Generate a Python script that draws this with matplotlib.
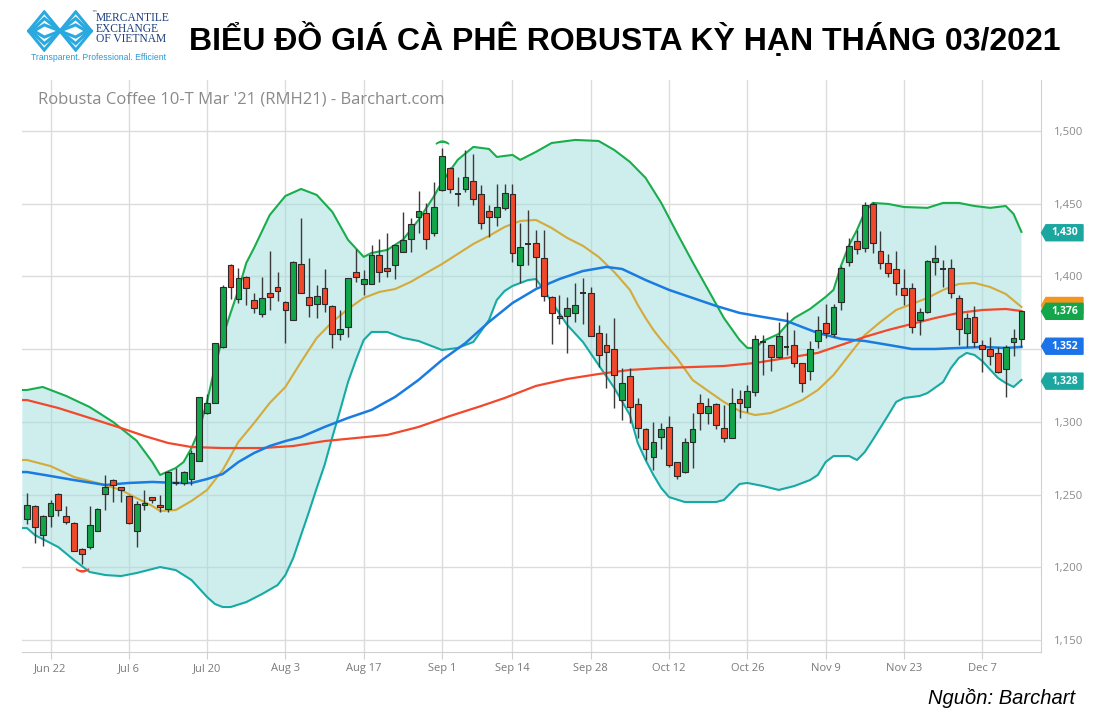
import numpy as np
import pandas as pd
import matplotlib
matplotlib.use('Agg')
import matplotlib.pyplot as plt
from matplotlib.transforms import blended_transform_factory
from matplotlib.ticker import FuncFormatter

# trading days on the chart (London robusta, Aug 31 bank holiday skipped)
dates = pd.bdate_range('2020-06-17', '2020-12-14')
dates = dates[dates != pd.Timestamp('2020-08-31')]

opens = [1233, 1242.2, 1222.2, 1235.3, 1250.4, 1235.3, 1230.7, 1212.4, 1213.7, 1225.2,
         1250.4, 1260, 1255, 1249.3, 1225.2, 1242.8, 1248.1, 1243, 1240, 1257.8,
         1257.8, 1260.5, 1273.3, 1305.9, 1313.2, 1351.3, 1407.9, 1384.3, 1399.8, 1383.8,
         1374.1, 1388.9, 1393, 1382.7, 1370, 1408.6, 1386.1, 1381, 1391.8, 1379.9,
         1360.2, 1365, 1402.8, 1394.8, 1394.8, 1414.8, 1406, 1407.9, 1417, 1425.8,
         1441.1, 1443.9, 1429.6, 1459.4, 1474.8, 1456.7, 1459.9, 1465.9, 1456.7, 1445,
         1441.1, 1446.8, 1456.7, 1407.9, 1422.3, 1422.8, 1412.9, 1386.1, 1373, 1373,
         1375.1, 1388.9, 1388.9, 1361.4, 1352.9, 1350.1, 1315.1, 1331.8, 1312.1, 1295.1,
         1276.1, 1289.8, 1296.2, 1272.2, 1265.8, 1285.9, 1313.2, 1306.3, 1312.3, 1296,
         1289.1, 1315.5, 1310, 1320.3, 1354.7, 1352.9, 1344.8, 1351.7, 1352.9, 1340.3,
         1335, 1355.8, 1368.2, 1360.2, 1382.2, 1410.2, 1424.6, 1419.3, 1449.6, 1417.7,
         1409, 1404.9, 1391.8, 1391.8, 1370, 1375.8, 1409.7, 1404.9, 1405.6, 1384.9,
         1360.9, 1371.9, 1352.9, 1350.1, 1347.1, 1336.1, 1355.1, 1357]
highs = [1251, 1243, 1236, 1246, 1251, 1242.2, 1231, 1213, 1242.2, 1241,
         1263.5, 1260.5, 1255.5, 1249.5, 1245.8, 1253.2, 1248.5, 1250, 1266, 1268,
         1266, 1280.7, 1317.3, 1319.2, 1354.2, 1394.1, 1408.2, 1405.6, 1400, 1388.4,
         1399.8, 1417.7, 1402.8, 1383, 1410.4, 1440, 1412.9, 1394.1, 1405.1, 1380,
         1376.9, 1398.9, 1418.6, 1404.4, 1421.6, 1426, 1429.7, 1422, 1444.5, 1440,
         1459, 1450.7, 1464.7, 1488, 1475, 1468.6, 1487, 1484, 1462.9, 1449.1,
         1463.6, 1463.6, 1463.6, 1436.5, 1445.7, 1432, 1432, 1386.5, 1387.3, 1385.7,
         1395.3, 1398.7, 1393, 1366.6, 1360.9, 1371.2, 1336.8, 1336.8, 1316.2, 1296,
         1300.1, 1299, 1304, 1272.5, 1288.7, 1305.9, 1319.2, 1316.6, 1313, 1311.6,
         1323, 1321.9, 1325.3, 1359.7, 1359.7, 1353, 1368.9, 1375.8, 1363.2, 1340.5,
         1355.8, 1373, 1380.8, 1380.8, 1407.2, 1426.2, 1431.9, 1451, 1451, 1431,
         1415.4, 1417.7, 1404.9, 1395.3, 1378.1, 1411, 1421.6, 1411.3, 1411.8, 1387.2,
         1374.6, 1379.7, 1356.3, 1358.6, 1351.2, 1352.9, 1363.6, 1376.2]
lows = [1230, 1216.5, 1214.7, 1228, 1235.3, 1230, 1211, 1202.5, 1212.4, 1224.8,
        1239.4, 1245, 1245, 1230, 1213.8, 1239.4, 1244, 1238, 1238, 1256.6,
        1256.6, 1256.6, 1273, 1305.5, 1313, 1351, 1384.3, 1382, 1380.4, 1375.1,
        1372.4, 1376.9, 1383.4, 1354, 1369.8, 1388.7, 1372.4, 1371.2, 1375.8, 1351,
        1356.3, 1358.1, 1396.4, 1387.2, 1394.5, 1396.4, 1399.8, 1398, 1416.8, 1417,
        1429.6, 1418.9, 1428, 1459, 1457, 1448.5, 1458.3, 1449.1, 1432.4, 1427.4,
        1434.7, 1445.7, 1410.2, 1395.3, 1407.9, 1392.5, 1383, 1353.6, 1367.3, 1347.1,
        1368.9, 1367.3, 1359, 1337.5, 1323.1, 1309.3, 1301.3, 1299, 1288.7, 1273.8,
        1266.9, 1281.3, 1268.7, 1260.7, 1264.6, 1268, 1294.4, 1298.3, 1295.1, 1286.4,
        1288.8, 1302.4, 1307, 1318, 1332.2, 1335, 1343.7, 1346, 1338, 1320.8,
        1328.8, 1350.6, 1357.4, 1358.6, 1376.9, 1407.4, 1415.4, 1417, 1415.9, 1405,
        1399.4, 1387.2, 1380.4, 1361.3, 1359.7, 1375, 1401, 1393, 1384.9, 1352.9,
        1351.7, 1351.7, 1334.5, 1339.1, 1333.8, 1317.3, 1345.3, 1351.7]
closes = [1242.6, 1227.5, 1235.3, 1244.5, 1239.4, 1231.2, 1211.5, 1209.2, 1229.1, 1240.1,
          1255, 1256.4, 1253.2, 1230.3, 1243.5, 1244.5, 1246.3, 1241.5, 1265.3, 1257.8,
          1265.8, 1278.4, 1317.3, 1313.2, 1354, 1393, 1392.5, 1398.7, 1392.3, 1378.1,
          1385, 1386.1, 1390.2, 1376.9, 1410.2, 1388.9, 1380.4, 1386.8, 1381, 1360.2,
          1363.9, 1398.7, 1399.4, 1398, 1414.8, 1403.3, 1404, 1421.6, 1425, 1436,
          1445, 1425.8, 1447.5, 1483, 1459.9, 1456.7, 1468.2, 1453, 1437, 1440.6,
          1447.5, 1457.6, 1416.4, 1420, 1422.3, 1413.1, 1386.6, 1375.1, 1371.2, 1378.1,
          1380.4, 1388.9, 1359.1, 1346, 1348.3, 1332.3, 1327, 1310.5, 1295.6, 1281.3,
          1285.9, 1295.1, 1270.3, 1263, 1285.9, 1295.1, 1305.9, 1310.9, 1297.8, 1289.1,
          1313.2, 1313.2, 1321.2, 1357, 1354.7, 1344.8, 1359.3, 1351.7, 1340.3, 1326.5,
          1350.1, 1363.2, 1361.3, 1378.8, 1406, 1421.2, 1418.9, 1449.1, 1423.2, 1409,
          1402.6, 1395.3, 1387.2, 1365, 1375.8, 1410.8, 1412.9, 1404.9, 1388.4, 1363.9,
          1371.2, 1355.1, 1350.1, 1345.3, 1334.5, 1351.2, 1357.4, 1376.2]

tick_days = ['2020-06-22', '2020-07-06', '2020-07-20', '2020-08-03', '2020-08-17',
             '2020-09-01', '2020-09-14', '2020-09-28', '2020-10-12', '2020-10-26',
             '2020-11-09', '2020-11-23', '2020-12-07']
tick_labels = ['Jun 22', 'Jul 6', 'Jul 20', 'Aug 3', 'Aug 17', 'Sep 1', 'Sep 14',
               'Sep 28', 'Oct 12', 'Oct 26', 'Nov 9', 'Nov 23', 'Dec 7']

# indicator lines at bar positions
upper_x = [-0.6, 0, 2, 5, 8, 11, 14, 16, 17, 19, 20, 21, 22, 23, 24, 25, 26, 27, 28, 29,
           31, 33, 35, 37, 39, 41, 43, 44, 46, 48, 50, 52, 53, 55, 57, 59, 60, 62, 63, 65,
           67, 70, 73, 75, 77, 79, 81, 83, 85, 87, 89, 91, 92, 93, 94, 96, 97, 98, 100, 102,
           103, 104, 105, 106, 107, 108, 110, 112, 115, 117, 119, 121, 123, 125, 126, 127]
upper_y = [1321.9, 1321.9, 1324.0, 1317.8, 1310.2, 1299.9, 1287.0, 1272.4, 1263.5, 1268.3,
           1272.4, 1282.0, 1294.4, 1314.3, 1337.7, 1358.4, 1374.9, 1390.7, 1409.2, 1419.6,
           1442.2, 1455.3, 1460.1, 1456.0, 1444.3, 1425.1, 1413.4, 1416.1, 1418.2, 1425.1,
           1438.8, 1455.3, 1464.9, 1480.1, 1489.0, 1487.6, 1482.1, 1483.5, 1480.1, 1485.6,
           1491.7, 1493.8, 1493.1, 1486.9, 1478.7, 1467.7, 1450.5, 1429.9, 1409.9, 1390.7,
           1371.4, 1356.3, 1350.8, 1350.8, 1355.6, 1360.4, 1366.6, 1371.4, 1377.6, 1385.9,
           1390.7, 1407.9, 1421.6, 1431.9, 1444.3, 1450.5, 1449.8, 1447.7, 1447.1, 1450.5,
           1450.5, 1448.4, 1447.1, 1448.4, 1442.9, 1430.6]
lower_x = [-0.6, 0, 1, 3, 4, 6, 7, 8, 10, 12, 14, 17, 19, 21, 23, 24, 25, 26, 28, 30,
           32, 33, 34, 35, 36, 37, 38, 39, 40, 41, 42, 43, 44, 46, 48, 50, 53, 55, 57, 59,
           60, 61, 62, 64, 65, 66, 67, 69, 71, 73, 75, 77, 78, 79, 80, 81, 82, 84, 86, 88,
           89, 90, 91, 92, 94, 96, 98, 100, 101, 102, 103, 105, 106, 107, 108, 110, 111, 112, 114, 115,
           117, 118, 119, 120, 121, 122, 124, 125, 126, 127]
lower_y = [1227.0, 1227.0, 1222.2, 1216.7, 1213.9, 1205.0, 1200.9, 1196.8, 1194.7, 1194.0,
           1196.1, 1200.2, 1198.1, 1191.3, 1179.6, 1174.8, 1172.7, 1172.7, 1176.1, 1181.6,
           1187.8, 1194.7, 1206.4, 1222.2, 1238.0, 1254.5, 1270.3, 1289.6, 1308.2, 1327.4,
           1342.5, 1356.3, 1361.8, 1361.8, 1357.7, 1355.6, 1349.4, 1350.8, 1354.9, 1370.0,
           1383.8, 1390.0, 1393.4, 1397.5, 1398.2, 1390.7, 1382.4, 1366.6, 1354.9, 1339.1,
           1323.3, 1304.7, 1285.5, 1273.8, 1263.5, 1254.5, 1248.3, 1244.9, 1244.9, 1244.9,
           1246.3, 1251.8, 1257.3, 1258.0, 1255.9, 1253.2, 1255.9, 1260.0, 1263.5, 1272.4,
           1276.5, 1276.5, 1273.8, 1279.3, 1287.5, 1304.7, 1313.7, 1316.4, 1317.8, 1319.8,
           1327.4, 1337.0, 1343.9, 1347.4, 1346.0, 1341.8, 1330.2, 1326.7, 1324.0, 1328.8]
ma20_x = [-0.6, 0, 3, 6, 9, 12, 14, 16, 17, 19, 21, 23, 25, 27, 29, 31, 33, 35, 37, 39,
          41, 43, 45, 47, 49, 51, 53, 55, 57, 59, 61, 63, 65, 67, 69, 71, 73, 75, 77, 78,
          79, 80, 81, 83, 85, 87, 89, 91, 93, 95, 97, 99, 101, 103, 105, 107, 109, 111, 113, 115,
          117, 119, 121, 123, 125, 127]
ma20_y = [1273.8, 1273.8, 1269.6, 1262.1, 1258.0, 1253.2, 1247.6, 1242.2, 1238.7, 1239.4,
          1245.6, 1253.2, 1266.9, 1286.2, 1299.2, 1313.0, 1324.0, 1341.2, 1357.7, 1368.7,
          1377.6, 1385.2, 1389.3, 1391.3, 1396.2, 1402.4, 1408.5, 1415.4, 1422.3, 1427.8,
          1434.0, 1438.1, 1438.8, 1433.3, 1426.4, 1421.0, 1413.4, 1403.0, 1390.7, 1380.4,
          1371.4, 1363.2, 1356.3, 1343.9, 1328.8, 1321.2, 1313.7, 1307.5, 1304.7, 1306.1,
          1310.2, 1315.0, 1321.9, 1332.2, 1346.0, 1359.7, 1368.7, 1376.9, 1381.0, 1385.2,
          1390.7, 1394.8, 1395.5, 1392.7, 1387.9, 1379.0]
ma50_x = [-0.6, 0, 3, 6, 10, 13, 16, 19, 21, 23, 25, 27, 29, 31, 33, 35, 38, 41, 44, 47,
          50, 53, 56, 59, 62, 65, 68, 71, 74, 76, 79, 82, 85, 88, 91, 94, 97, 99, 101, 104,
          107, 110, 113, 116, 119, 122, 125, 127]
ma50_y = [1265.5, 1265.5, 1262.8, 1260.0, 1256.6, 1258.0, 1258.7, 1258.0, 1258.0, 1260.7,
          1264.2, 1272.4, 1278.6, 1283.4, 1286.8, 1289.6, 1296.5, 1302.7, 1308.2, 1317.1,
          1328.8, 1342.5, 1354.2, 1368.7, 1381.7, 1391.3, 1398.2, 1403.7, 1406.5, 1405.1,
          1397.5, 1390.7, 1385.2, 1379.7, 1374.9, 1372.1, 1369.4, 1365.2, 1361.1, 1357.0,
          1355.6, 1352.9, 1350.1, 1350.1, 1350.8, 1351.5, 1350.8, 1351.5]
ma100_x = [-0.6, 0, 4, 8, 12, 15, 18, 21, 25, 30, 34, 38, 42, 46, 50, 54, 58, 61, 65, 69,
           73, 77, 81, 85, 89, 93, 97, 101, 104, 107, 110, 113, 116, 119, 122, 125, 127]
ma100_y = [1315.0, 1315.0, 1309.5, 1302.7, 1295.8, 1290.3, 1285.5, 1282.7, 1282.0, 1282.0,
           1283.4, 1286.8, 1288.9, 1291.0, 1296.5, 1304.0, 1310.9, 1316.4, 1324.7, 1329.5,
           1332.9, 1335.7, 1337.0, 1337.7, 1338.4, 1340.5, 1343.9, 1347.4, 1352.9, 1358.4,
           1363.2, 1367.3, 1371.4, 1374.9, 1376.9, 1377.6, 1376.2]

# last-value tags on the right edge
tag_values = [1430, 1380, 1376, 1352, 1328]
tag_texts = ['1,430', '', '1,376', '1,352', '1,328']
tag_colors = ['#1ba6a0', '#f7941d', '#12a54a', '#1a73e8', '#1ba6a0']

GREEN = '#12a54a'
RED = '#f0482a'

fig = plt.figure(figsize=(11.04, 7.2), dpi=100)
ax = fig.add_axes([22 / 1104, 1 - 652 / 720, (1041 - 22) / 1104, (652 - 80) / 720])
ax.set_xlim(-0.64, 129.5)
ax.set_ylim(1141.8, 1535)

x = np.arange(len(dates))
o = np.array(opens); h = np.array(highs); l = np.array(lows); c = np.array(closes)

# bollinger band fill + lines
ax.fill(np.r_[upper_x, lower_x[::-1]], np.r_[upper_y, lower_y[::-1]],
        color='#9fdcdc', alpha=0.5, lw=0, zorder=1)
ax.plot(upper_x, upper_y, color='#19ad4c', lw=1.5, zorder=2)
ax.plot(lower_x, lower_y, color='#17aaa5', lw=1.5, zorder=2)
ax.plot(ma20_x, ma20_y, color='#d4aa3a', lw=1.5, zorder=2)
ax.plot(ma100_x, ma100_y, color='#f2482b', lw=1.6, zorder=2)
ax.plot(ma50_x, ma50_y, color='#1a7be0', lw=1.8, zorder=2)

# candles
ax.vlines(x, l, h, color='#3a3a3a', lw=1.0, zorder=3)
up = c > o
down = c < o
doji = c == o
ax.bar(x[up], (c - o)[up], bottom=o[up], width=0.74, color=GREEN,
       edgecolor='#2a2a2a', lw=0.8, zorder=4)
ax.bar(x[down], (o - c)[down], bottom=c[down], width=0.74, color=RED,
       edgecolor='#2a2a2a', lw=0.8, zorder=4)
ax.hlines(c[doji], x[doji] - 0.37, x[doji] + 0.37, color='#2a2a2a', lw=1.4, zorder=4)

# high / low markers
ih = int(np.argmax(h)); il = int(np.argmin(l))
ax.plot(ih, h[ih] + 4.5, marker=r'$\frown$', color='#19ad4c', ms=9, zorder=5)
ax.plot(il, l[il] - 4.0, marker=r'$\smile$', color='#f0482a', ms=9, zorder=5)

# axes styling
tick_pos = [dates.get_loc(pd.Timestamp(d)) for d in tick_days]
ax.set_xticks(tick_pos)
ax.set_xticklabels(tick_labels)
ax.set_yticks(range(1150, 1501, 50))
# the 1,350 label sits under the 1,352 tag in the original
ax.yaxis.set_major_formatter(FuncFormatter(lambda v, _: '' if v == 1350 else f'{int(v):,}'))
ax.yaxis.tick_right()
ax.grid(True, color='#dcdcdc', lw=1.0)
ax.set_axisbelow(True)
for s in ['top', 'left']:
    ax.spines[s].set_visible(False)
for s in ['right', 'bottom']:
    ax.spines[s].set_color('#d0d0d0')
ax.tick_params(axis='y', length=0, pad=9, labelsize=8.2, labelcolor='#8a8a8a')
ax.tick_params(axis='x', length=5, color='#d0d0d0', labelsize=8, labelcolor='#7a7a7a', pad=3)
for t in ax.get_xticklabels() + ax.get_yticklabels():
    t.set_family(['Open Sans', 'DejaVu Sans'])

# right-edge value tags
tr = blended_transform_factory(ax.transAxes, ax.transData)
px = 1 / 1019
hh = 8 * (1535 - 1141.8) / 572
for v, txt, col in zip(tag_values, tag_texts, tag_colors):
    pts = [(1 + 0.5 * px, v), (1 + 5 * px, v + hh), (1 + 42 * px, v + hh),
           (1 + 42 * px, v - hh), (1 + 5 * px, v - hh)]
    ax.add_patch(plt.Polygon(pts, closed=True, transform=tr, color=col,
                             clip_on=False, zorder=6))
    if txt:
        ax.text(1 + 24 * px, v, txt, transform=tr, ha='center', va='center',
                color='white', fontsize=7.5, fontweight='bold', zorder=7,
                family=['Open Sans', 'DejaVu Sans'])

# chart subtitle
fig.text(38 / 1104, 1 - 100 / 720, "Robusta Coffee 10-T Mar '21 (RMH21) - Barchart.com",
         color='#8a8a8a', fontsize=12, va='center', family=['Open Sans', 'DejaVu Sans'])

# header
fig.text(625 / 1104, 1 - 39 / 720, 'BIỂU ĐỒ GIÁ CÀ PHÊ ROBUSTA KỲ HẠN THÁNG 03/2021',
         ha='center', va='center', fontsize=23, fontweight='bold',
         family=['Liberation Sans', 'DejaVu Sans'], color='black')
fig.text(1075 / 1104, 1 - 698 / 720, 'Nguồn: Barchart', ha='right', va='center',
         fontsize=14.5, style='italic', family=['Liberation Sans', 'DejaVu Sans'])

# logo (rough)
lax = fig.add_axes([27 / 1104, 1 - 52 / 720, 66 / 1104, 42 / 720])
lax.set_xlim(-0.1, 4.1)
lax.set_ylim(-0.05, 1.05)
lax.axis('off')
for k in range(3):
    a = k * 0.17
    lax.plot([a, 1, 2, 3, 4 - a], [0.5, 1 - a, 0.5, 1 - a, 0.5], color='#2aa9e0', lw=2.2,
             solid_joinstyle='miter')
    lax.plot([a, 1, 2, 3, 4 - a], [0.5, a, 0.5, a, 0.5], color='#2aa9e0', lw=2.2,
             solid_joinstyle='miter')
for i, line in enumerate(['MERCANTILE', 'EXCHANGE', 'OF VIETNAM']):
    fig.text(96 / 1104, 1 - (18 + i * 10.5) / 720, line, fontsize=8.3, color='#1c3d7c',
             va='center', family=['Liberation Serif', 'DejaVu Serif'])
fig.text(91 / 1104, 1 - 13 / 720, '™', fontsize=4, color='#1c3d7c', va='center')
fig.text(31 / 1104, 1 - 58 / 720, 'Transparent. Professional. Efficient', fontsize=6.2,
         color='#2b9ad5', va='center', family=['Liberation Sans Narrow', 'Liberation Sans'])

fig.savefig('out.png', dpi=100)
